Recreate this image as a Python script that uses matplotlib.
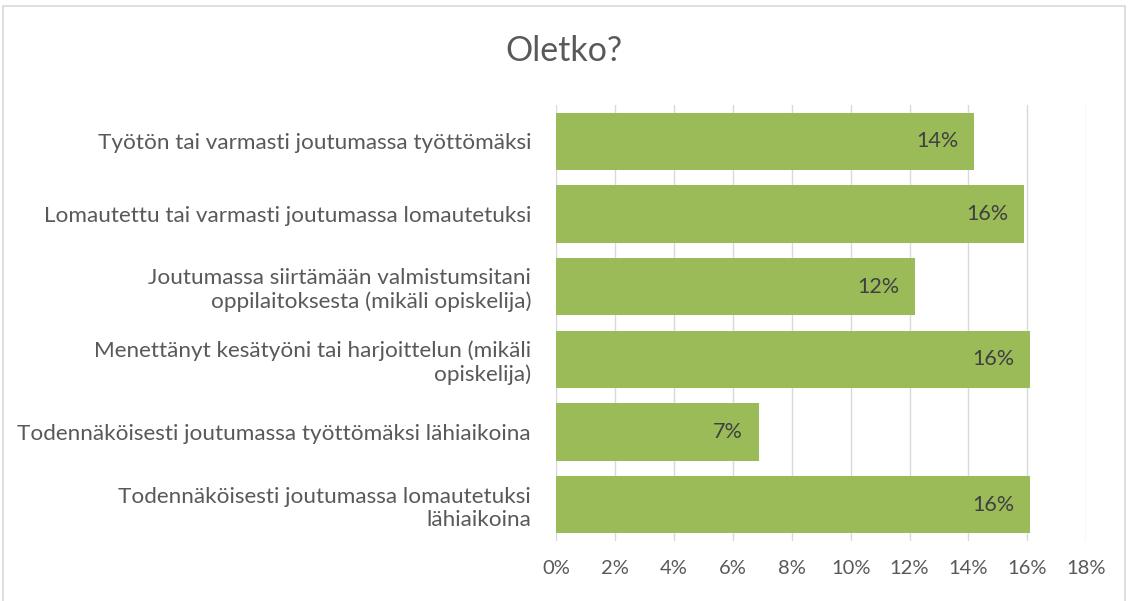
import matplotlib.pyplot as plt
from matplotlib.patches import Rectangle

categories = [
    "Työtön tai varmasti joutumassa työttömäksi",
    "Lomautettu tai varmasti joutumassa lomautetuksi",
    "Joutumassa siirtämään valmistumsitani\noppilaitoksesta (mikäli opiskelija)",
    "Menettänyt kesätyöni tai harjoittelun (mikäli\nopiskelija)",
    "Todennäköisesti joutumassa työttömäksi lähiaikoina",
    "Todennäköisesti joutumassa lomautetuksi\nlähiaikoina",
]
values = [14.2, 15.9, 12.2, 16.1, 6.9, 16.1]
xticks = [0, 2, 4, 6, 8, 10, 12, 14, 16, 18]

plt.rcParams['font.family'] = ['Lato', 'DejaVu Sans']

fig = plt.figure(figsize=(11.28, 6.01), dpi=100)
ax = fig.add_axes([0.493, 0.100, 0.470, 0.725])

y = list(range(len(categories)))
ax.barh(y, values, height=0.79, color='#9BBB59', zorder=3)
for yi, v in zip(y, values):
    ax.text(v - 0.55, yi, f"{round(v)}%", ha='right', va='center',
            fontsize=15.5, color='#404040', zorder=4)

ax.set_ylim(len(categories) - 0.5, -0.5)
ax.set_xlim(0, 18)
ax.set_xticks(xticks)
ax.set_xticklabels([f"{t}%" for t in xticks], fontsize=14.5, color='#595959')
ax.set_yticks(y)
ax.set_yticklabels(categories, fontsize=16.2, color='#595959', ha='right')
ax.tick_params(length=0, pad=18, axis='y')
ax.tick_params(length=0, pad=14, axis='x')
ax.grid(axis='x', color='#d9d9d9', linewidth=1, zorder=0)
for s in ax.spines.values():
    s.set_visible(False)

fig.text(0.5, 0.915, "Oletko?", ha='center', va='center', fontsize=24.5, color='#595959')
fig.patches.append(Rectangle((0.003, -0.01), 0.994, 1.0, transform=fig.transFigure,
                             fill=False, edgecolor='#d9d9d9', linewidth=1.2))

fig.savefig("out.png", dpi=100)
